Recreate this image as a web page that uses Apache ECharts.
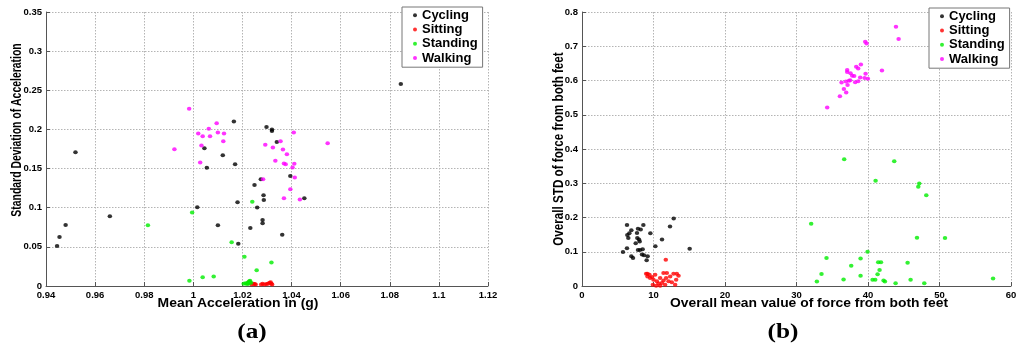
<!DOCTYPE html>
<html>
<head>
<meta charset="utf-8">
<script src="https://cdn.jsdelivr.net/npm/echarts@6/dist/echarts.min.js"></script>
<style>
html,body{margin:0;padding:0;background:#fff;}
#chart{width:1024px;height:352px;}
</style>
</head>
<body>
<div id="chart"></div>
<script>
// ---------- Data ----------
const classNames = ['Cycling', 'Sitting', 'Standing', 'Walking'];
const classColors = ['#000000', '#ff0000', '#00ee00', '#ff00ff'];

// (a) mean acceleration (g) vs standard deviation of acceleration
const cyclingAccel = [[0.9445,0.0512],[0.9455,0.0625],[0.948,0.078],[0.952,0.171],[0.966,0.089],[1.0016,0.1006],[1.0045,0.176],[1.0055,0.151],[1.010,0.0777],[1.012,0.167],[1.0165,0.21],[1.017,0.1555],[1.018,0.107],[1.0183,0.054],[1.0232,0.074],[1.0249,0.129],[1.026,0.1003],[1.0275,0.1365],[1.0282,0.0842],[1.0282,0.0802],[1.0286,0.116],[1.0287,0.110],[1.0298,0.203],[1.032,0.2],[1.032,0.198],[1.034,0.184],[1.0362,0.0655],[1.0395,0.1405],[1.0452,0.112],[1.0845,0.258]];
const sittingAccel = [[1.0222,0.0035],[1.0228,0.0055],[1.0232,0.0045],[1.0238,0.002],[1.0245,0.003],[1.025,0.0025],[1.0254,0.002],[1.0276,0.002],[1.0282,0.0028],[1.029,0.002],[1.0298,0.0025],[1.0304,0.003],[1.031,0.0042],[1.0315,0.0048],[1.0318,0.0028],[1.0321,0.002]];
const standingAccel = [[0.9815,0.0776],[0.9995,0.094],[0.9984,0.0066],[1.0038,0.0113],[1.0083,0.012],[1.0156,0.0558],[1.0208,0.0373],[1.024,0.1077],[1.0258,0.0202],[1.0318,0.030],[1.0205,0.003],[1.0212,0.0035],[1.0218,0.0025],[1.0222,0.0045],[1.0228,0.006],[1.0231,0.0068],[1.0235,0.004],[1.0225,0.003]];
const walkingAccel = [[0.9983,0.2263],[0.9923,0.1748],[1.002,0.1948],[1.0038,0.1914],[1.0033,0.1795],[1.0028,0.1577],[1.0063,0.2008],[1.0068,0.1914],[1.0095,0.208],[1.010,0.196],[1.0125,0.1948],[1.0122,0.185],[1.0409,0.196],[1.0293,0.1803],[1.0355,0.185],[1.0324,0.1769],[1.0365,0.1743],[1.0381,0.1684],[1.0334,0.1599],[1.0369,0.1564],[1.0376,0.1556],[1.0411,0.1562],[1.0404,0.1513],[1.0413,0.1387],[1.0284,0.1364],[1.0395,0.1236],[1.0369,0.1121],[1.0434,0.1106],[1.0547,0.1824]];

// (b) overall mean force from both feet vs overall STD of force
const cyclingForce = [[5.73,0.099],[6.29,0.110],[6.29,0.178],[6.34,0.149],[6.48,0.140],[6.62,0.154],[6.90,0.163],[6.90,0.087],[7.13,0.082],[7.51,0.125],[7.69,0.155],[7.74,0.140],[7.83,0.167],[7.83,0.105],[7.97,0.136],[8.07,0.130],[8.11,0.105],[8.21,0.165],[8.39,0.092],[8.48,0.107],[8.58,0.178],[8.67,0.090],[9.04,0.075],[9.18,0.087],[9.56,0.154],[10.26,0.116],[11.19,0.136],[12.31,0.174],[12.82,0.197],[15.06,0.109]];
const sittingForce = [[8.97,0.036],[9.16,0.028],[9.44,0.033],[9.53,0.023],[9.81,0.026],[10.0,0.018],[10.23,0.033],[10.47,0.014],[10.70,0.007],[10.93,0.023],[11.17,0.009],[11.40,0.016],[11.63,0.004],[11.77,0.023],[11.86,0.038],[12.10,0.014],[12.33,0.028],[12.56,0.011],[12.80,0.036],[13.03,0.004],[13.26,0.036],[13.50,0.030],[9.91,0.004],[10.37,0.001],[10.93,0.001],[9.16,0.036],[11.72,0.077],[11.40,0.038],[13.17,0.018]];
const standingForce = [[36.67,0.370],[43.67,0.364],[41.06,0.307],[47.17,0.299],[47.03,0.290],[48.15,0.265],[32.05,0.182],[46.85,0.141],[50.77,0.140],[39.94,0.100],[34.20,0.082],[38.96,0.080],[41.43,0.069],[41.81,0.069],[45.54,0.068],[37.65,0.059],[41.62,0.047],[41.34,0.034],[33.50,0.035],[38.96,0.030],[36.58,0.019],[32.85,0.013],[40.64,0.018],[41.01,0.018],[42.18,0.016],[42.37,0.013],[45.96,0.018],[43.86,0.008],[47.87,0.008],[57.49,0.022]];
const walkingForce = [[43.91,0.757],[44.28,0.721],[39.61,0.713],[39.80,0.708],[39.0,0.647],[41.95,0.629],[38.35,0.640],[38.63,0.635],[37.09,0.631],[37.09,0.625],[37.56,0.621],[37.79,0.614],[38.07,0.613],[39.66,0.620],[38.91,0.609],[39.52,0.607],[39.99,0.605],[37.51,0.601],[37.33,0.599],[36.30,0.594],[36.91,0.597],[38.21,0.595],[38.63,0.598],[37.14,0.587],[36.63,0.575],[36.95,0.565],[36.07,0.554],[34.29,0.521]];

// axis ranges / tick spacing
const accelXRange = [0.94, 1.12, 0.02];
const accelYRange = [0, 0.35, 0.05];
const forceXRange = [0, 60, 10];
const forceYRange = [0, 0.8, 0.1];

const titles = {
  ax: 'Mean Acceleration in (g)',
  ay: 'Standard Deviation of Acceleration',
  bx: 'Overall mean value of force from both feet',
  by: 'Overall STD of force from both feet',
  a: '(a)',
  b: '(b)'
};

// ---------- Chart ----------
const FONT = '"Liberation Sans", Arial, Helvetica, sans-serif';
const SERIF = '"Liberation Serif", "Times New Roman", serif';
const axisLabelStyle = { fontSize: 9.5, fontWeight: 'bold', color: '#000', fontFamily: FONT };
const splitLineStyle = { show: true, lineStyle: { color: '#b4b4b4', type: [1.5, 1.5], width: 1 } };
const axisLineStyle = { show: true, lineStyle: { color: '#555', width: 1 } };
const axisTickStyle = { show: true, inside: true, length: 4, lineStyle: { color: '#555' } };

function valueAxis(gridIndex, range, isX) {
  return {
    type: 'value', gridIndex: gridIndex,
    min: range[0], max: range[1], interval: range[2],
    axisLine: axisLineStyle, axisTick: axisTickStyle,
    splitLine: splitLineStyle,
    axisLabel: Object.assign({ margin: isX ? 4 : 4 }, axisLabelStyle)
  };
}

const accelSets = [cyclingAccel, sittingAccel, standingAccel, walkingAccel];
const forceSets = [cyclingForce, sittingForce, standingForce, walkingForce];

const series = [];
accelSets.forEach((d, i) => series.push({
  name: classNames[i], type: 'scatter', xAxisIndex: 0, yAxisIndex: 0,
  data: d, symbol: 'circle', symbolSize: [4.5, 4], itemStyle: { color: classColors[i] }, z: 3
}));
forceSets.forEach((d, i) => series.push({
  name: classNames[i], type: 'scatter', xAxisIndex: 1, yAxisIndex: 1,
  data: d, symbol: 'circle', symbolSize: [4.5, 4], itemStyle: { color: classColors[i] }, z: 3
}));

function legendAt(left, top) {
  return {
    data: classNames, orient: 'vertical', left: left, top: top,
    icon: 'circle', itemWidth: 4, itemHeight: 4, itemGap: 0, itemTextGap: 9,
    padding: [1, 5, 2, 11],
    backgroundColor: '#fff', borderColor: '#777', borderWidth: 1,
    selectedMode: false,
    textStyle: { fontSize: 13, fontWeight: 'bold', color: '#000', fontFamily: FONT, lineHeight: 14.3 }
  };
}

function txt(text, x, y, opt) {
  return Object.assign({
    type: 'text', x: x, y: y, silent: true,
    style: Object.assign({
      text: text, fill: '#000', align: 'center', verticalAlign: 'middle',
      fontFamily: FONT, fontSize: 12, fontWeight: 'bold'
    }, opt.style || {})
  }, opt.el || {});
}

const option = {
  backgroundColor: '#fff',
  animation: false,
  grid: [
    { left: 46, top: 12, width: 442, height: 274 },
    { left: 582, top: 12, width: 429, height: 274 }
  ],
  xAxis: [valueAxis(0, accelXRange, true), valueAxis(1, forceXRange, true)],
  yAxis: [valueAxis(0, accelYRange, false), valueAxis(1, forceYRange, false)],
  legend: [legendAt(402, 7), legendAt(929, 8)],
  series: series,
  graphic: [
    txt(titles.ax, 238, 304, { el: { scaleX: 1.16 } }),
    txt(titles.bx, 809, 304, { el: { scaleX: 1.155 } }),
    txt(titles.ay, 17, 130, { el: { rotation: Math.PI / 2, scaleX: 0.87, scaleY: 1.15 } }),
    txt(titles.by, 559, 149, { el: { rotation: Math.PI / 2, scaleX: 0.97, scaleY: 1.15 } }),
    txt(titles.a, 252, 332, { el: { scaleX: 1.15 }, style: { fontFamily: SERIF, fontSize: 22 } }),
    txt(titles.b, 783, 332, { el: { scaleX: 1.15 }, style: { fontFamily: SERIF, fontSize: 22 } })
  ]
};

const chart = echarts.init(document.getElementById('chart'));
chart.setOption(option);
</script>
</body>
</html>
